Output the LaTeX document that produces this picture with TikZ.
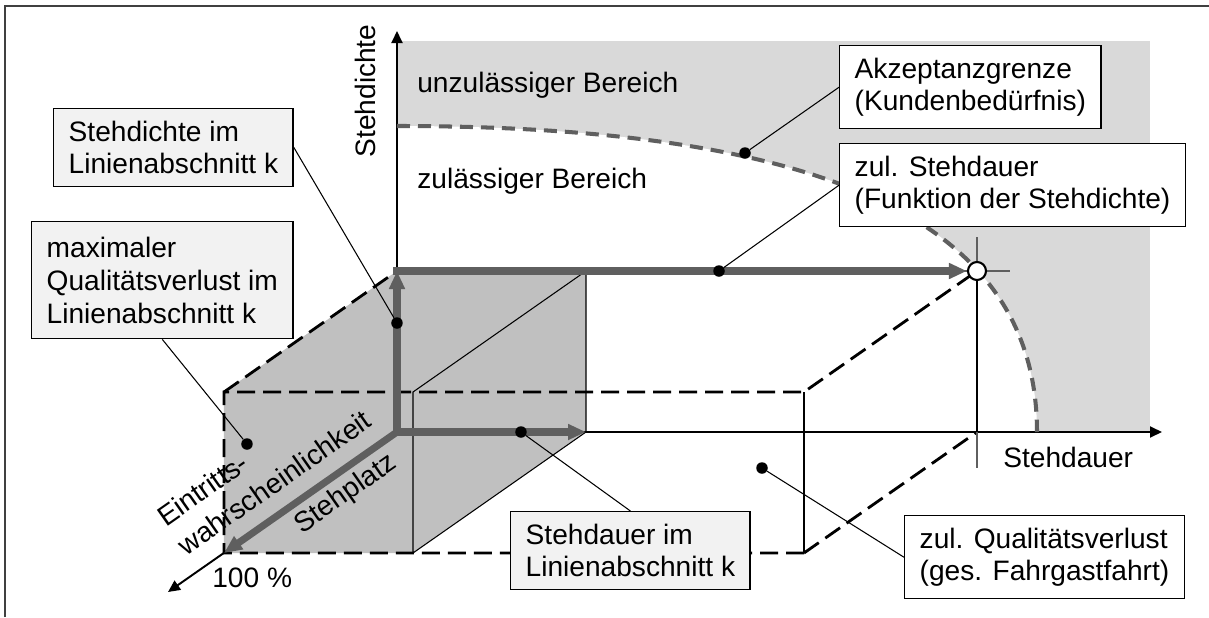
\documentclass[tikz,border=0pt]{standalone}
\usepackage{fontspec}
\setmainfont{Liberation Sans}
\usetikzlibrary{arrows.meta}

\definecolor{bereich}{HTML}{D9D9D9}
\definecolor{quader}{HTML}{C0C0C0}
\definecolor{kastengrau}{HTML}{F2F2F2}
\definecolor{pfeilgrau}{HTML}{5F5F5F}

\begin{document}
\begin{tikzpicture}[font=\fontsize{16}{18.7}\selectfont]
\tikzset{achse/.style={line width=1.1pt,-{Triangle[length=.24cm,width=.22cm]}},
  pfeil/.style={draw=pfeilgrau,line width=4pt,-{Triangle[length=.36cm,width=.3cm]}},
  kante/.style={line width=1.6pt,dash pattern=on .36cm off .16cm},
  grenze/.style={draw=pfeilgrau,line width=2.3pt,dash pattern=on .26cm off .16cm},
  kasten/.style={draw,line width=.8pt,fill=white,align=left,anchor=north west,inner xsep=.3cm,inner ysep=.24cm},
  punkt/.style={circle,fill,inner sep=0pt,minimum size=.23cm},
  schrift/.style={inner sep=0pt}}
\useasboundingbox (-7.94,-3.7) rectangle (16.24,8.64);
\draw[line width=1.1pt,black!75] (-7.84,-3.7) -- (-7.84,8.52) -- (16.24,8.52);

% zulaessiger und unzulaessiger Bereich
\fill[bereich] (0,0) rectangle (15.06,7.82);
\fill[white] (0,0) -- (0,6.12) .. controls (8.7,6.12) and (12.8,4.16) .. (12.8,0) -- cycle;

% Quader im Linienabschnitt
\fill[quader] (-3.46,-2.42) -- (0.32,-2.42) -- (3.78,0) -- (3.78,3.22) -- (0,3.22) -- (-3.46,0.8) -- cycle;
\draw[line width=.6pt] (0.32,-2.42) -- (0.32,0.8) -- (3.78,3.22) -- (3.78,0) -- cycle;

% Quader der gesamten Fahrt
\draw[kante] (8.14,-2.42) -- (-3.46,-2.42) -- (-3.46,0.8) -- (8.14,0.8) -- (11.6,3.22);
\draw[kante] (-3.46,0.8) -- (0,3.22);
\draw[kante] (8.14,-2.42) -- (11.6,0);
\draw[line width=1.6pt] (8.14,-2.42) -- (8.14,0.8);

% Achsen
\draw[achse] (0,0) -- (0,8.02);
\draw[achse] (0,0) -- (15.3,0);
\draw[achse] (0,0) -- (-4.58,-3.2);

\draw[pfeilgrau,line width=1.2pt] (11.6,3.9) -- (11.6,-0.72) (11,3.22) -- (12.26,3.22);
\draw[line width=1.6pt] (11.6,0) -- (11.6,3.22);
\draw[grenze] (0,6.12) .. controls (8.7,6.12) and (12.8,4.16) .. (12.8,0);
\node[circle,draw,fill=white,line width=1.2pt,minimum size=.36cm,inner sep=0pt] (ziel) at (11.6,3.22) {};

\draw[pfeil] (0,0) -- (0,3.22);
\draw[pfeil] (-.07,3.22) -- (ziel);
\draw[pfeil] (0,0) -- (3.78,0);
\draw[pfeil] (0,0) -- (-3.46,-2.42);

\node[schrift,rotate=90] (achsey) at (-0.64,6.82) {Stehdichte};
\node[schrift,anchor=base west] (unzul) at (0.4,6.8) {unzulässiger Bereich};
\node[schrift,anchor=base west] (zul) at (0.4,4.88) {zulässiger Bereich};
\node[schrift,anchor=base west] (achsex) at (12.12,-0.7) {Stehdauer};
\node[schrift,anchor=base west] (prozent) at (-3.7,-3.1) {100 \%};
\node[schrift,rotate=35,align=left] (eintritt) at (-2.66,-0.72) {Eintritts-\\[1.5pt]wahrscheinlichkeit};
\node[schrift,rotate=35] (stehplatz) at (-1.02,-1.25) {Stehplatz};

\foreach \n/\x/\y in {1/6.96/5.58,2/6.44/3.22,3/0/2.18,4/-3.0/-0.24,5/2.48/0,6/7.3/-0.72}{%
	\node[punkt] (\n) at (\x,\y) {};
}%

\node[kasten] (akzeptanz) at (8.84,7.74) {Akzeptanzgrenze\\(Kundenbedürfnis)};
\node[kasten] (zulsteh) at (8.84,5.78) {zul. Stehdauer\\(Funktion der Stehdichte)};
\node[kasten,fill=kastengrau] (dichte) at (-6.88,6.48) {Stehdichte im\\Linienabschnitt k};
\node[kasten,fill=kastengrau,minimum height=2.34cm] (maxverl) at (-7.32,4.22) {maximaler\\Qualitätsverlust im\\Linienabschnitt k};
\node[kasten,fill=kastengrau] (dauer) at (2.26,-1.58) {Stehdauer im\\Linienabschnitt k};
\node[kasten] (zulverl) at (10.14,-1.66) {zul. Qualitätsverlust\\(ges. Fahrgastfahrt)};

\foreach \a/\b in {akzeptanz.west/1,zulsteh.west/2,dichte.east/3,maxverl.south/4,dauer.north/5,zulverl.west/6}{%
	\draw[line width=.6pt] (\a) -- (\b);
}%
\end{tikzpicture}
\end{document}
